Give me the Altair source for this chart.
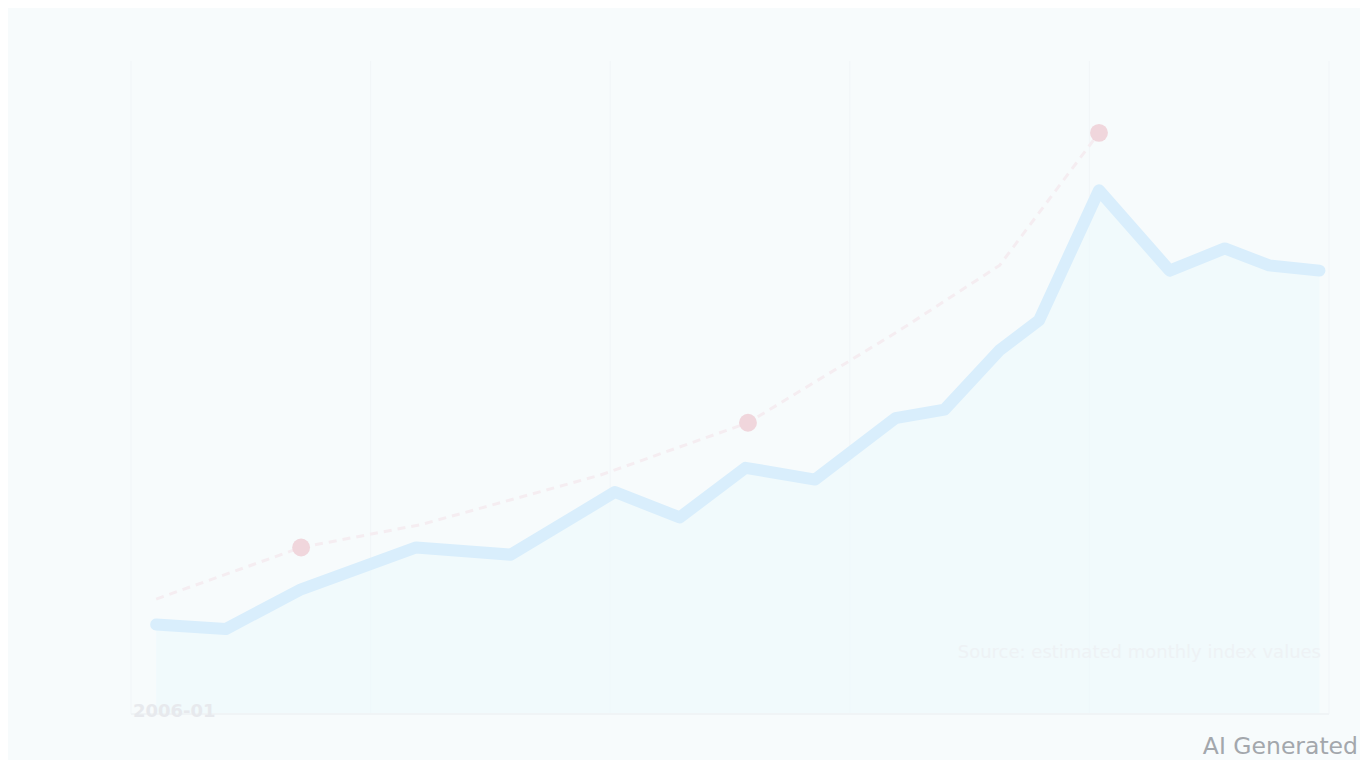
import altair as alt
import pandas as pd

# Blue series (period index 0-100, value 0-100)
periods = [2.1, 7.9, 14.2, 23.8, 31.7, 40.4, 45.8, 51.3, 57.1, 63.8, 67.9, 72.5, 75.8, 80.8, 86.7, 91.3, 95.0, 99.2]
values = [13.7, 13.0, 19.1, 25.5, 24.4, 34.0, 30.1, 37.7, 35.9, 45.3, 46.6, 55.7, 60.3, 80.2, 67.9, 71.3, 68.7, 67.9]

# Red dashed trend
trend_periods = [2.1, 14.2, 24.2, 39.2, 51.5, 64.2, 72.5, 80.8]
trend_values = [17.6, 25.5, 29.0, 36.6, 44.6, 58.8, 68.7, 89.0]

# Red highlighted markers
mark_periods = [14.2, 51.5, 80.8]
mark_values = [25.5, 44.6, 89.0]

start_label = "2006-01"
note_text = "Source: estimated monthly index values"
watermark = "AI Generated"

series = pd.DataFrame({"period": periods, "value": values})
trend = pd.DataFrame({"period": trend_periods, "value": trend_values})
marks = pd.DataFrame({"period": mark_periods, "value": mark_values})

W, H = 1352, 752
xs = alt.Scale(domain=[0, 100], nice=False, zero=False)
ys = alt.Scale(domain=[0, 100], nice=False)
X = alt.X("period:Q", scale=xs, axis=None)
Y = alt.Y("value:Q", scale=ys, axis=None)

grid = alt.Chart(pd.DataFrame({"g": [0, 20, 40, 60, 80, 100]})).mark_rule(
    color="#f1f5f8", strokeWidth=1
).encode(x=alt.X("g:Q", scale=xs, axis=None))

area = alt.Chart(series).mark_area(color="#eef9fc", opacity=0.7).encode(x=X, y=Y)

blue = alt.Chart(series).mark_line(
    color="#d9eefc", strokeWidth=12, strokeCap="round", strokeJoin="round"
).encode(x=X, y=Y)

red_line = alt.Chart(trend).mark_line(
    color="#f5edf1", strokeWidth=3, strokeDash=[8, 6]
).encode(x=X, y=Y)

red_pts = alt.Chart(marks).mark_circle(color="#f0d6dc", size=320, opacity=1).encode(x=X, y=Y)

base_rule = alt.Chart(pd.DataFrame({"v": [0]})).mark_rule(color="#f0f4f6", strokeWidth=2).encode(
    y=alt.Y("v:Q", scale=ys, axis=None)
)

lbl = alt.Chart(pd.DataFrame({"t": [start_label]})).mark_text(
    color="#e7e9ed", fontSize=18, fontWeight="bold", align="left", baseline="middle", font="DejaVu Sans"
).encode(text="t:N", x=alt.value(2), y=alt.value(651))

note = alt.Chart(pd.DataFrame({"t": [note_text]})).mark_text(
    color="#eef2f5", fontSize=18, align="right", baseline="middle", font="DejaVu Sans"
).encode(text="t:N", x=alt.value(1190), y=alt.value(592))

wm = alt.Chart(pd.DataFrame({"t": [watermark]})).mark_text(
    color="#a3a7ac", fontSize=23.5, align="right", baseline="alphabetic", font="DejaVu Sans"
).encode(text="t:N", x=alt.value(1227), y=alt.value(693))

chart = alt.layer(grid, area, base_rule, red_line, blue, red_pts, lbl, note, wm).properties(
    width=W, height=H,
    autosize=alt.AutoSizeParams(type="fit", contains="padding"),
    padding={"left": 122, "top": 52, "right": 30, "bottom": 45},
    background="#f7fbfc",
).configure_view(stroke=None).configure_text(limit=0)

chart.save("out.html", embed_options={"renderer": "svg", "actions": False})
